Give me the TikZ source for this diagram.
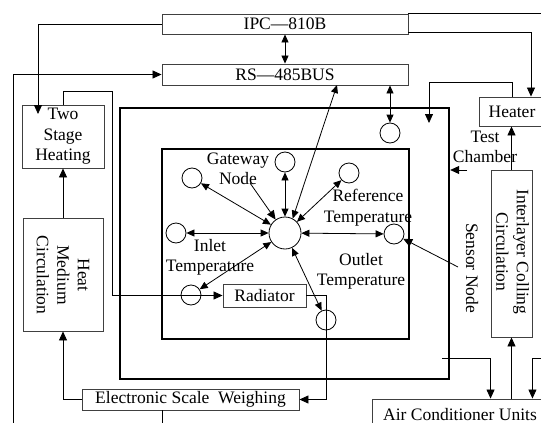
\documentclass[tikz,border=0pt]{standalone}
\usepackage{fontspec}
\setmainfont{Liberation Serif}
\usetikzlibrary{arrows.meta}

\begin{document}
\begin{tikzpicture}[x=1pt,y=-1pt,
  every node/.style={font=\fontsize{17.5}{20.5}\selectfont, inner sep=0pt},
  box/.style={draw=black!75, line width=0.9pt, rectangle, inner sep=0pt},
  wall/.style={draw=black, rectangle, inner sep=0pt},
  conn/.style={draw=black, line width=0.8pt},
  tip/.style={-{Triangle[length=9pt,width=8pt]}},
  both/.style={{Triangle[length=8pt,width=7pt]}-{Triangle[length=8pt,width=7pt]}},
  dot/.style={circle, draw=black, line width=0.8pt, minimum size=20pt, inner sep=0pt},
  lbl/.style={align=center},
]
\clip (0,0) rectangle (541,423);

% control level
\node[box, minimum width=246pt, minimum height=20pt] (ipc) at (285,24) {IPC—810B};
\node[box, minimum width=246pt, minimum height=21pt] (rs) at (285,74.5) {RS—485BUS};

% left-hand heating loop
\node[box, minimum width=82pt, minimum height=63pt, align=center] (two) at (63,136.5) {Two\\Stage\\Heating};
\node[box, minimum width=80pt, minimum height=113pt] (heat) at (63,274.5) {};
\node[rotate=-90, align=center] at (63,275) {Heat\\Medium\\Circulation};
\node[box, minimum width=217pt, minimum height=21pt] (esw) at (190.5,399.5) {Electronic Scale\ \ Weighing};

% right-hand climate loop
\node[box, minimum width=66pt, minimum height=29pt] (heater) at (512,111.5) {Heater};
\node[box, minimum width=41pt, minimum height=167pt] (inter) at (511.5,253.5) {};
\node[rotate=-90, align=center] at (512.5,252) {Interlayer Colling\\Circulation};
\node[box, minimum width=178pt, minimum height=41pt] (ac) at (461,419.5) {};
\node[anchor=base] at (460,420) {Air Conditioner Units};

% test chamber and test piece
\node[wall, line width=2.4pt, minimum width=329pt, minimum height=271pt] (chamber) at (284.5,243.5) {};
\node[wall, line width=2pt, minimum width=247pt, minimum height=190pt] (inner) at (285.5,244) {};
\node[box, minimum width=83pt, minimum height=23pt] (rad) at (264.5,295.5) {Radiator};

% sensor nodes
\node[dot, minimum size=32pt] (c0) at (285,233) {};
\node[dot] (cgw) at (285,162) {};
\node[dot] (cul) at (192,178) {};
\node[dot] (cl)  at (176,233) {};
\node[dot] (cur) at (349,173) {};
\node[dot] (cout) at (394,234) {};
\node[dot] (cin) at (191,295) {};
\node[dot] (clr) at (326,320) {};
\node[dot] (crs) at (390,133) {};

% labels
\node[lbl] (gwl) at (238,169) {Gateway\\Node};
\node[lbl] at (210,257.5) {Inlet\\Temperature};
\node[lbl] at (368,207.5) {Reference\\Temperature};
\node[lbl] at (361,271.5) {Outlet\\Temperature};
\node[lbl] at (485,147) {Test\\Chamber};
\node[rotate=-90] at (472,268) {Sensor Node};

\coordinate (gwptr) at (250,183);
\coordinate (chlbl) at (467,170);
\coordinate (snlbl) at (458,267);
\coordinate (rsport) at (337,85);
\coordinate (acin1) at (442,358);
\coordinate (acin2) at (550,358);

% bus links
\draw[conn, both] (ipc) -- (rs);
\draw[conn, both] (c0.62) -- (rsport);
\draw[conn, both] (rs.south -| crs) -- (crs);
\draw[conn] (ipc.north east) -- ++(140,0);
\draw[conn, tip] (ipc.west) -| (38,114);
\draw[conn, tip] ([yshift=-8pt]ipc.east) -| ([xshift=19pt]heater.north);
\draw[conn, tip] (13,430) |- (rs.west);

% heating medium loop
\draw[conn, tip] (two.north) |- (112,91) |- (rad.west);
\draw[conn, tip] (rad.east) -| (326,399.5) -- (esw.east);
\draw[conn, tip] (esw.west) -| (heat.south);
\draw[conn, tip] (heat.north) -- (two.south);
\draw[conn] ([xshift=-28.5pt]esw.south) -- ++(0,30);

% air loop
\draw[conn, tip] (heater.north) |- (429,82) -- (429,123);
\draw[conn, tip] (inter.north) -- (inter.north |- heater.south);
\draw[conn, tip] (acin1) -| (ac.north -| inter.west);
\draw[conn, tip] (ac.north -| inter.south) -- (inter.south);
\draw[conn, tip] (acin2) -| (ac.north -| inter.east);

% sensor network
\foreach \n in {cgw,cul,cl,cur,cout,cin,clr}
  \draw[conn, both] (c0) -- (\n);
\draw[conn, tip] (gwptr) -- (c0);
\draw[conn, tip] (chlbl) -- (chlbl -| chamber.east);
\draw[conn, tip] (snlbl) -- (cout);
\end{tikzpicture}
\end{document}
